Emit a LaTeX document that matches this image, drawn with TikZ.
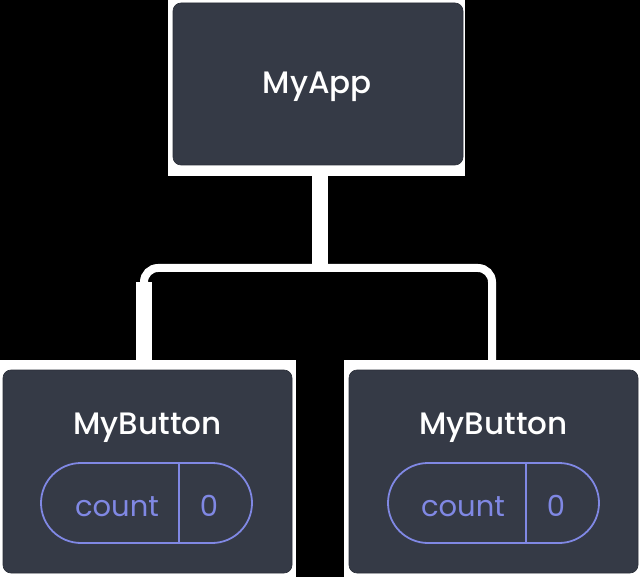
\documentclass[tikz,border=0pt]{standalone}
\usepackage{fontspec}
\setmainfont{Poppins}[UprightFont={* Medium}]
\newfontfamily\pillfont{Poppins}
\usetikzlibrary{calc}
\definecolor{boxbg}{HTML}{353A46}
\definecolor{pillc}{HTML}{8088E4}
\tikzset{
  frame/.style={fill=white, draw=none, inner sep=0pt, outer sep=0pt},
  darkbox/.style={fill=boxbg, draw=boxbg!80!black, line width=0.6pt, rounded corners=8pt, inner sep=0pt, outer sep=0pt},
  title/.style={text=white, font=\fontsize{31}{34}\selectfont, anchor=base, inner sep=0pt},
  pillbox/.style={draw=pillc, line width=1.8pt, rounded corners=40pt, minimum width=211pt, minimum height=80pt, inner sep=0pt, outer sep=0pt},
  pilltext/.style={text=pillc, font=\pillfont\fontsize{29}{32}\selectfont, anchor=base, inner sep=0pt},
  wire/.style={draw=white, line cap=butt},
}
\begin{document}
\begin{tikzpicture}[x=1pt,y=-1pt]
\useasboundingbox[fill=black] (0,0) rectangle (640,577);
% white frames
\node[frame, minimum width=297pt, minimum height=176pt] (appF) at (316.5,88) {};
\node[frame, minimum width=296pt, minimum height=217pt] (btnLF) at (148,468.5) {};
\node[frame, minimum width=296pt, minimum height=217pt] (btnRF) at (492,468.5) {};
% dark boxes
\node[darkbox, minimum width=290pt, minimum height=162pt] (app) at (318,84) {};
\node[darkbox, minimum width=289pt, minimum height=203pt] (btnL) at (147.5,471.5) {};
\node[darkbox, minimum width=289pt, minimum height=203pt] (btnR) at (493.5,471.5) {};
% connectors
\coordinate (jn) at (320,268);
\coordinate (ld) at (144,0);
\coordinate (rd) at (492,0);
\draw[wire, line width=16pt] (jn |- appF.south) -- (jn);
\draw[wire, line width=8pt, rounded corners=14pt] (ld |- btnLF.north) |- (jn) -| (rd |- btnRF.north);
\draw[wire, line width=16pt] (ld |- btnLF.north) -- ($(ld |- jn)+(0,14)$);
% titles
\node[title] (appT) at (317.5,94) {MyApp};
\node[title] (btnLT) at (147.5,434) {MyButton};
\node[title] (btnRT) at (493.5,434) {MyButton};
% pills
\node[pillbox] (pillL) at (146.5,503) {};
\node[pillbox] (pillR) at (493.5,503) {};
\coordinate (divL) at (179,0);
\coordinate (divR) at (526,0);
\draw[draw=pillc, line width=1.8pt] (divL |- pillL.north) -- (divL |- pillL.south);
\draw[draw=pillc, line width=1.8pt] (divR |- pillR.north) -- (divR |- pillR.south);
\node[pilltext] (cntL) at (117,516) {count};
\node[pilltext] (valL) at (209,516) {0};
\node[pilltext] (cntR) at (463,516) {count};
\node[pilltext] (valR) at (556,516) {0};
\end{tikzpicture}
\end{document}
